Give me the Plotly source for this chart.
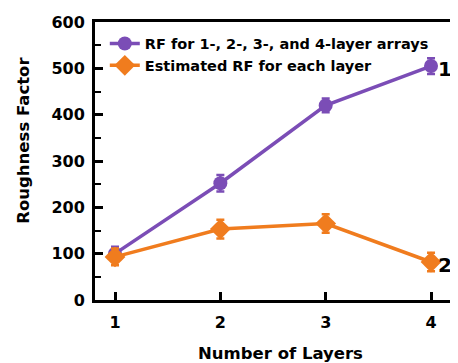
import plotly.graph_objects as go

layers = [1, 2, 3, 4]
rf_arrays = [100, 252, 420, 505]
rf_arrays_err = [15, 18, 15, 17]
rf_layer = [93, 153, 165, 82]
rf_layer_err = [18, 20, 20, 20]
names = ["RF for 1-, 2-, 3-, and 4-layer arrays", "Estimated RF for each layer"]
y_ticks = [0, 100, 200, 300, 400, 500, 600]
purple = "#7B4DB6"
orange = "#F07C1E"
font = "DejaVu Sans"

fig = go.Figure()
fig.add_trace(go.Scatter(
    x=layers, y=rf_arrays, name=names[0], mode="lines+markers",
    line=dict(color=purple, width=3.5),
    marker=dict(symbol="circle", size=14, color=purple),
    error_y=dict(type="data", array=rf_arrays_err, color=purple, thickness=2.5, width=4),
))
fig.add_trace(go.Scatter(
    x=layers, y=rf_layer, name=names[1], mode="lines+markers",
    line=dict(color=orange, width=3.5),
    marker=dict(symbol="diamond", size=16, color=orange),
    error_y=dict(type="data", array=rf_layer_err, color=orange, thickness=2.5, width=4),
))

# page body adds an 8px offset, so the figure is 450x355
fig.update_layout(
    width=450, height=355,
    margin=dict(l=87, r=0, t=14, b=63),
    paper_bgcolor="white", plot_bgcolor="white",
    font=dict(family=font, color="black"),
    showlegend=True,
    legend=dict(x=0.027, y=0.98, xanchor="left", yanchor="top",
                bgcolor="rgba(0,0,0,0)", tracegroupgap=0,
                font=dict(size=14.5, family=font, weight="bold"),
                itemwidth=30),
    annotations=[
        dict(x=4, y=rf_arrays[3], xref="x", yref="y", text="<b>1</b>", showarrow=False,
             xshift=14, yshift=-3, font=dict(size=20, family=font)),
        dict(x=4, y=rf_layer[3], xref="x", yref="y", text="<b>2</b>", showarrow=False,
             xshift=14, yshift=-3, font=dict(size=20, family=font)),
        dict(x=0.512, y=-0.152, xref="paper", yref="paper", yanchor="top",
             text="<b>Number of Layers</b>", showarrow=False, font=dict(size=16.5, family=font)),
        dict(x=-0.196, y=0.576, xref="paper", yref="paper", xanchor="center", yanchor="middle",
             text="<b>Roughness Factor</b>", textangle=-90, showarrow=False,
             font=dict(size=16.5, family=font)),
    ],
)
fig.update_xaxes(
    range=[0.81, 4.256], tickvals=layers, ticktext=[f"<b>{v}</b>" for v in layers],
    showline=True, linecolor="black", linewidth=3, mirror=True,
    ticks="inside", ticklen=8, tickwidth=2.5, tickcolor="black", ticklabelstandoff=6,
    showgrid=False, zeroline=False, tickfont=dict(size=16, family=font),
)
fig.update_yaxes(
    range=[0, 600], tickvals=y_ticks,
    ticktext=[f"<b>{v}</b>" for v in y_ticks],
    showline=True, linecolor="black", linewidth=3,
    ticks="inside", ticklen=8, tickwidth=2.5, tickcolor="black", ticklabelstandoff=4,
    minor=dict(dtick=50, ticks="inside", ticklen=6, tickwidth=2, tickcolor="black"),
    showgrid=False, zeroline=False, tickfont=dict(size=16, family=font),
)
fig.write_html("out.html")
